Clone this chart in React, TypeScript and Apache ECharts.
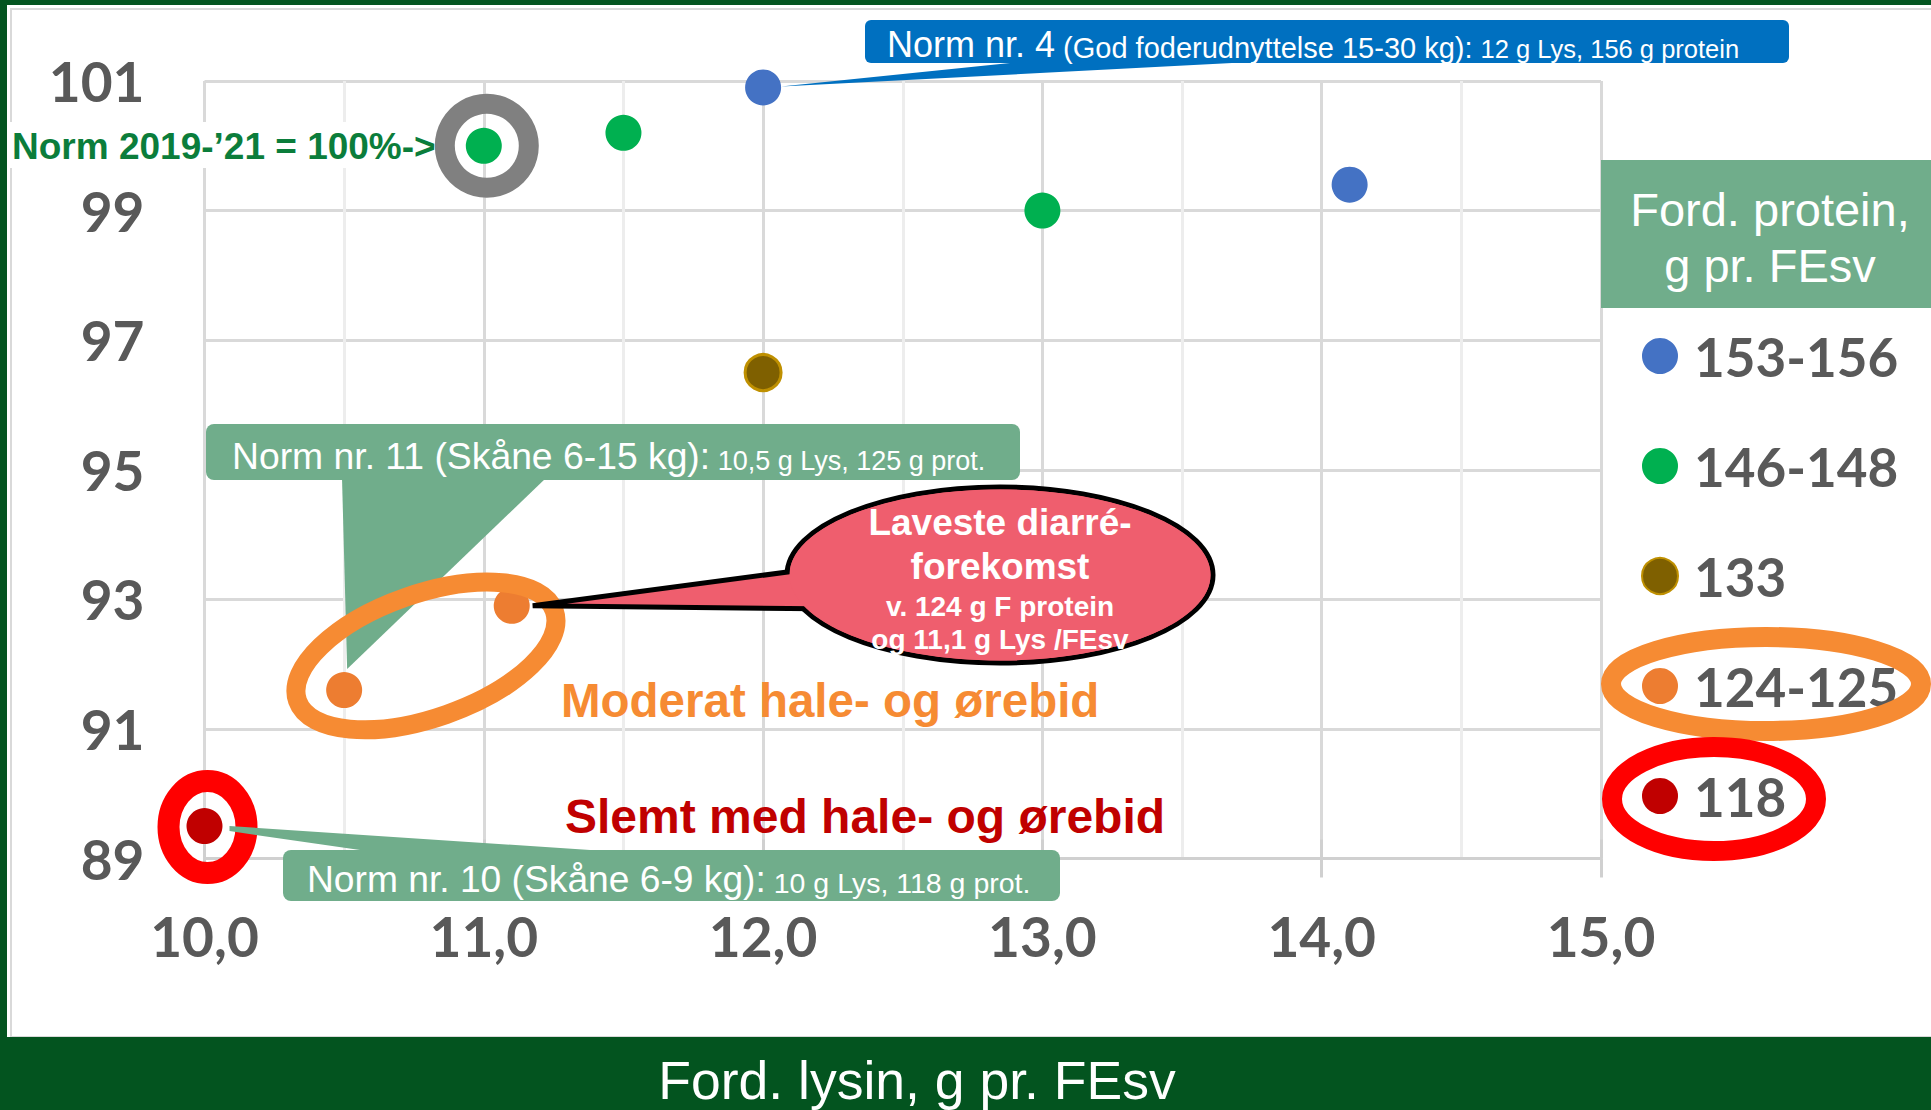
import React, { useEffect, useRef } from "react";
import * as echarts from "echarts";

// ---------------- data ----------------
const proteinGroups = ["153-156", "146-148", "133", "124-125", "118"];

const lysin153to156 = [12.0, 14.1];
const growth153to156 = [100.9, 99.4];

const lysin146to148 = [11.0, 11.5, 13.0];
const growth146to148 = [100.0, 100.2, 99.0];

const lysin133 = [12.0];
const growth133 = [96.5];

const lysin124to125 = [10.5, 11.1];
const growth124to125 = [91.6, 92.9];

const lysin118 = [10.0];
const growth118 = [89.5];

const xTickValues = [10, 11, 12, 13, 14, 15];
const yTickValues = [89, 91, 93, 95, 97, 99, 101];

const xAxisTitle = "Ford. lysin, g pr. FEsv";
const legendTitle = "Ford. protein,\ng pr. FEsv";

// ---------------- styles ----------------
const groupColors = ["#4472C4", "#00B050", "#7F6000", "#ED7D31", "#C00000"];
const FONT = '"Liberation Sans", Arial, sans-serif';
const NUM_FONT = 'Lato, "Noto Sans", sans-serif';
const DARK = "#03541F";
const GREEN_BOX = "#70AD8B";
const ORANGE = "#F68B33";
const RED_FILL = "#EF5E6E";
const AXIS_GREY = "#595959";

function buildOption(): any {
  const groups = [
    { x: lysin153to156, y: growth153to156 },
    { x: lysin146to148, y: growth146to148 },
    { x: lysin133, y: growth133 },
    { x: lysin124to125, y: growth124to125 },
    { x: lysin118, y: growth118 },
  ];
  const series = groups.map((g, i) => ({
    type: "scatter",
    name: proteinGroups[i],
    data: g.x.map((x, j) => [x, g.y[j]]),
    symbol: "circle",
    symbolSize: 36,
    z: 5,
    itemStyle:
      i === 2
        ? { color: groupColors[i], borderColor: "#BF9000", borderWidth: 3, opacity: 1 }
        : { color: groupColors[i], opacity: 1 },
  }));
  const fmtX = (v: number) => v.toFixed(1).replace(".", ",");
  return {
    animation: false,
    backgroundColor: "#ffffff",
    grid: { left: 204.5, right: 330, top: 81, bottom: 251.5, containLabel: false },
    xAxis: [
      {
        type: "value",
        min: xTickValues[0],
        max: xTickValues[xTickValues.length - 1],
        interval: 1,
        axisLine: { show: true, lineStyle: { color: "#D0D0D0", width: 3 } },
        axisTick: { show: true, length: 19, lineStyle: { color: "#D0D0D0", width: 3 } },
        axisLabel: {
          formatter: fmtX,
          fontFamily: NUM_FONT,
          fontWeight: "bold",
          fontSize: 55,
          color: AXIS_GREY,
          margin: 50,
        },
        splitLine: { show: true, lineStyle: { color: "#D9D9D9", width: 3 } },
        minorTick: { show: false, splitNumber: 2 },
        minorSplitLine: { show: true, lineStyle: { color: "#EDEDED", width: 3 } },
      },
      {
        type: "value",
        gridIndex: 0,
        position: "bottom",
        min: xTickValues[0],
        max: xTickValues[xTickValues.length - 1],
        interval: 1,
        axisLine: { show: false },
        axisTick: { show: true, inside: true, length: 19, lineStyle: { color: "#D0D0D0", width: 3 } },
        axisLabel: { show: false },
        splitLine: { show: false },
      },
    ],
    yAxis: {
      type: "value",
      min: yTickValues[0],
      max: yTickValues[yTickValues.length - 1],
      axisLine: { show: false },
      axisTick: { show: false, customValues: yTickValues },
      axisLabel: {
        customValues: yTickValues,
        fontFamily: NUM_FONT,
        fontWeight: "bold",
        fontSize: 55,
        color: AXIS_GREY,
        margin: 60,
      },
      splitLine: { show: true, lineStyle: { color: "#D9D9D9", width: 3 } },
    },
    legend: {
      orient: "vertical",
      left: 1641,
      top: 328,
      padding: 0,
      itemWidth: 36,
      itemHeight: 36,
      itemGap: 54,
      icon: "circle",
      selectedMode: false,
      data: proteinGroups,
      textStyle: {
        fontFamily: NUM_FONT,
        fontWeight: "bold",
        fontSize: 53,
        color: AXIS_GREY,
        lineHeight: 56,
        padding: [0, 0, 0, 11],
      },
    },
    series,
  };
}

function txt(x: number, y: number, style: any, z = 10): any {
  return { type: "text", x, y, z, style: { fontFamily: FONT, ...style } };
}

function buildGraphics(P: (x: number, y: number) => number[]): any[] {
  const blue = P(lysin153to156[0], growth153to156[0]);
  const greenRef = P(lysin146to148[0], growth146to148[0]);
  const oA = P(lysin124to125[0], growth124to125[0]);
  const oB = P(lysin124to125[1], growth124to125[1]);
  const red = P(lysin118[0], growth118[0]);

  const oCx = (oA[0] + oB[0]) / 2 - 2;
  const oCy = (oA[1] + oB[1]) / 2 + 8;
  const oRot = (19.3 * Math.PI) / 180;

  const smallRich = (size: number, lh: number) => ({
    fontSize: size,
    fontFamily: FONT,
    fill: "#ffffff",
    color: "#ffffff",
    verticalAlign: "bottom",
    lineHeight: lh,
  });

  return [
    // slide frame
    { type: "rect", z: 1, shape: { x: 11, y: 9, width: 1925, height: 1028 }, style: { fill: "none", stroke: "#D9D9D9", lineWidth: 2 } },
    { type: "rect", z: 1, shape: { x: 0, y: 0, width: 1931, height: 5 }, style: { fill: DARK } },
    { type: "rect", z: 1, shape: { x: 0, y: 0, width: 7, height: 1110 }, style: { fill: DARK } },
    { type: "rect", z: 1, shape: { x: 0, y: 1037, width: 1931, height: 73 }, style: { fill: DARK } },
    txt(917, 1080, { text: xAxisTitle, fill: "#ffffff", fontSize: 53.5, align: "center", verticalAlign: "middle" }),

    // legend header
    { type: "rect", z: 1, shape: { x: 1601, y: 160, width: 330, height: 148 }, style: { fill: GREEN_BOX } },
    txt(1770, 237, { text: legendTitle, fill: "#ffffff", fontSize: 47, lineHeight: 56, align: "center", verticalAlign: "middle" }),

    // Norm nr. 11 callout
    { type: "polygon", z: 10, shape: { points: [[342, 478], [546, 478], [oA[0] + 3, oA[1] - 21]] }, style: { fill: GREEN_BOX } },
    { type: "rect", z: 10, shape: { x: 206, y: 424, width: 814, height: 56, r: 8 }, style: { fill: GREEN_BOX } },
    txt(232, 453, {
      text: "{a|Norm nr. 11 (Skåne 6-15 kg):} {b|10,5 g Lys, 125 g prot.}",
      fill: "#ffffff",
      fontSize: 27,
      verticalAlign: "middle",
      rich: { a: smallRich(37.3, 43), b: smallRich(27, 35) },
    }),

    // orange ellipse around 124-125 points
    { type: "ellipse", z: 10, x: oCx, y: oCy, rotation: oRot, shape: { cx: 0, cy: 0, rx: 136, ry: 62 }, style: { fill: "none", stroke: ORANGE, lineWidth: 19 } },

    // red oval callout
    { type: "ellipse", z: 10, shape: { cx: 1000, cy: 575, rx: 213, ry: 88 }, style: { fill: RED_FILL, stroke: "#000000", lineWidth: 5 } },
    { type: "polygon", z: 10, shape: { points: [[oB[0] + 21, oB[1]], [840, 565], [840, 609]] }, style: { fill: RED_FILL, stroke: "#000000", lineWidth: 5 } },
    { type: "ellipse", z: 10, shape: { cx: 1000, cy: 575, rx: 210.5, ry: 85.5 }, style: { fill: RED_FILL } },
    txt(1000, 522, { text: "Laveste diarré-", fill: "#ffffff", fontSize: 37, fontWeight: "bold", align: "center", verticalAlign: "middle" }),
    txt(1000, 566, { text: "forekomst", fill: "#ffffff", fontSize: 37, fontWeight: "bold", align: "center", verticalAlign: "middle" }),
    txt(1000, 606, { text: "v. 124 g F protein", fill: "#ffffff", fontSize: 28, fontWeight: "bold", align: "center", verticalAlign: "middle" }),
    txt(1000, 639, { text: "og 11,1 g Lys /FEsv", fill: "#ffffff", fontSize: 28, fontWeight: "bold", align: "center", verticalAlign: "middle" }),

    // blue Norm nr. 4 callout
    { type: "polygon", z: 10, shape: { points: [[blue[0] + 18, blue[1] - 1], [1010, 63], [1232, 63]] }, style: { fill: "#0070C0" } },
    { type: "rect", z: 10, shape: { x: 865, y: 20, width: 924, height: 43, r: 6 }, style: { fill: "#0070C0" } },
    txt(887, 42, {
      text: "{a|Norm nr. 4} {b|(God foderudnyttelse 15-30 kg):} {c|12 g Lys, 156 g protein}",
      fill: "#ffffff",
      fontSize: 29,
      verticalAlign: "middle",
      rich: { a: smallRich(36, 40), b: smallRich(29, 34), c: smallRich(25.5, 31) },
    }),

    // red ring around 118 point + Norm nr. 10 callout
    { type: "ellipse", z: 10, shape: { cx: red[0] + 3, cy: red[1] + 1, rx: 39, ry: 46 }, style: { fill: "none", stroke: "#FF0000", lineWidth: 22 } },
    { type: "polygon", z: 10, shape: { points: [[red[0] + 25, red[1]], [605, 851], [367, 851], [red[0] + 25, red[1] + 5]] }, style: { fill: GREEN_BOX } },
    { type: "rect", z: 10, shape: { x: 283, y: 850, width: 777, height: 51, r: 8 }, style: { fill: GREEN_BOX } },
    txt(307, 876, {
      text: "{a|Norm nr. 10 (Skåne 6-9 kg):} {b|10 g Lys, 118 g prot.}",
      fill: "#ffffff",
      fontSize: 28.5,
      verticalAlign: "middle",
      rich: { a: smallRich(37.2, 43), b: smallRich(28.5, 36) },
    }),

    // grey ring around the 2019-'21 norm point
    { type: "ring", z: 10, shape: { cx: greenRef[0] + 3, cy: greenRef[1], r: 52, r0: 32 }, style: { fill: "#808080" } },
    { type: "rect", z: 10, shape: { x: 8, y: 122, width: 424, height: 46 }, style: { fill: "#ffffff" } },
    txt(12, 146, { text: "Norm 2019-’21 = 100%->", fill: "#0B7D3B", fontSize: 37, fontWeight: "bold", verticalAlign: "middle" }),

    // category texts
    txt(561, 700, { text: "Moderat hale- og ørebid", fill: ORANGE, fontSize: 47.5, fontWeight: "bold", verticalAlign: "middle" }),
    txt(565, 816, { text: "Slemt med hale- og ørebid", fill: "#C00000", fontSize: 48, fontWeight: "bold", verticalAlign: "middle" }),

    // legend highlight rings
    { type: "ellipse", z: 12, shape: { cx: 1766, cy: 684, rx: 155, ry: 47 }, style: { fill: "none", stroke: ORANGE, lineWidth: 20 } },
    { type: "ellipse", z: 12, shape: { cx: 1714, cy: 799, rx: 102, ry: 52 }, style: { fill: "none", stroke: "#FF0000", lineWidth: 20 } },
  ];
}

export default function App() {
  const ref = useRef<HTMLDivElement>(null);
  useEffect(() => {
    document.body.style.margin = "0";
    document.body.style.overflow = "hidden";
    const chart = echarts.init(ref.current!, null, { renderer: "svg" });
    chart.setOption(buildOption());
    const P = (x: number, y: number) => chart.convertToPixel({ seriesIndex: 0 }, [x, y]) as number[];
    chart.setOption({ graphic: buildGraphics(P) });
    return () => chart.dispose();
  }, []);
  return <div ref={ref} style={{ width: 1931, height: 1110 }} />;
}
